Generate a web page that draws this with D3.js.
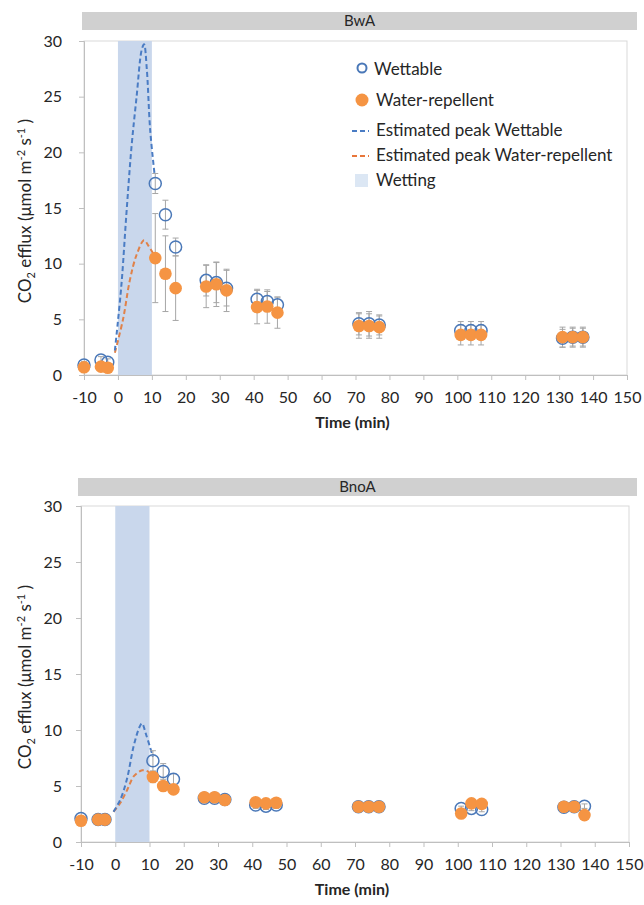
<!DOCTYPE html>
<html>
<head>
<meta charset="utf-8">
<script src="https://cdn.jsdelivr.net/npm/d3@7"></script>
<style>
  body { margin: 0; background: #fff; }
  text { font-family: Lato, "Open Sans", sans-serif; fill: #262626; }
</style>
</head>
<body>
<div id="chart"></div>
<script>
/* global d3 */

// sampling times (min)
const times = [-10, -5, -3, 11, 14, 17, 26, 29, 32, 41, 44, 47, 71, 74, 77, 101, 104, 107, 131, 134, 137]

// BwA panel
const bwaWettable = [0.9, 1.35, 1.15, 17.2, 14.4, 11.5, 8.5, 8.3, 7.8, 6.8, 6.6, 6.3, 4.6, 4.6, 4.5, 4.0, 4.0, 4.0, 3.3, 3.4, 3.4]
const bwaWettableErr = [0.3, 0.3, 0.3, 0.9, 1.3, 0.8, 1.4, 1.8, 1.6, 0.9, 0.9, 0.7, 1.0, 1.1, 0.9, 0.8, 0.8, 0.8, 0.8, 0.8, 0.8]
const bwaRepellent = [0.7, 0.75, 0.65, 10.5, 9.1, 7.8, 7.95, 8.15, 7.6, 6.1, 6.15, 5.6, 4.4, 4.4, 4.3, 3.6, 3.6, 3.6, 3.4, 3.4, 3.4]
const bwaRepellentErr = [0.3, 0.3, 0.3, 4.0, 3.4, 2.9, 1.9, 2.0, 1.9, 1.5, 1.5, 1.4, 1.1, 1.1, 1.0, 0.9, 0.9, 0.9, 0.9, 0.9, 0.9]
const bwaPeakWetT = [-0.9, 1, 2.5, 4, 5.5, 7, 7.7, 8.5, 9.5, 10.8]
const bwaPeakWetV = [2.2, 8, 14.5, 20.5, 25, 29.2, 29.7, 27.5, 22, 18]
const bwaPeakRepT = [-0.9, 1.5, 3.5, 5.5, 7.7, 9, 10.8]
const bwaPeakRepV = [2.0, 5, 8.5, 10.8, 12.1, 11.6, 10.7]

// BnoA panel
const bnoaWettable = [2.1, 2.0, 2.0, 7.25, 6.3, 5.6, 3.9, 3.9, 3.8, 3.3, 3.2, 3.3, 3.15, 3.15, 3.15, 3.0, 3.0, 2.9, 3.1, 3.15, 3.2]
const bnoaWettableErr = [0.2, 0.2, 0.2, 0.9, 0.7, 0.5, 0.3, 0.3, 0.3, 0.3, 0.3, 0.3, 0.2, 0.2, 0.2, 0.2, 0.2, 0.2, 0.2, 0.2, 0.2]
const bnoaRepellent = [1.9, 2.0, 2.0, 5.8, 5.0, 4.7, 4.0, 4.0, 3.75, 3.55, 3.45, 3.5, 3.15, 3.15, 3.15, 2.55, 3.45, 3.4, 3.15, 3.15, 2.4]
const bnoaRepellentErr = [0.2, 0.2, 0.2, 0.5, 0.4, 0.3, 0.3, 0.3, 0.3, 0.2, 0.2, 0.2, 0.2, 0.2, 0.2, 0.2, 0.2, 0.2, 0.2, 0.2, 0.2]
const bnoaPeakWetT = [-0.5, 1.5, 3.4, 5.4, 7, 7.8, 9, 11]
const bnoaPeakWetV = [2.7, 3.8, 5.6, 8.6, 10.2, 10.6, 9.6, 7.6]
const bnoaPeakRepT = [-0.5, 1.5, 3.4, 5.5, 7.9, 9.5, 11]
const bnoaPeakRepV = [2.7, 3.5, 4.6, 5.9, 6.4, 6.3, 5.8]

const wettingRange = [0, 10]
const xTicks = d3.range(-10, 151, 10)
const yTicks = [0, 5, 10, 15, 20, 25, 30]
const legendLabels = ['Wettable', 'Water-repellent', 'Estimated peak Wettable', 'Estimated peak Water-repellent', 'Wetting']

const blue = '#4a78b8', orange = '#f59443', grey = '#a6a6a6'

const svg = d3.select('#chart').append('svg')
  .attr('width', 644)
  .attr('height', 905)

const panels = [
  { name: 'BwA', left: 84, right: 627, top: 41, bottom: 375, hx: 82, hy: 12,
    wet: bwaWettable, wetErr: bwaWettableErr, rep: bwaRepellent, repErr: bwaRepellentErr,
    pwT: bwaPeakWetT, pwV: bwaPeakWetV, prT: bwaPeakRepT, prV: bwaPeakRepV, legend: true },
  { name: 'BnoA', left: 81, right: 629, top: 506, bottom: 842, hx: 78, hy: 478,
    wet: bnoaWettable, wetErr: bnoaWettableErr, rep: bnoaRepellent, repErr: bnoaRepellentErr,
    pwT: bnoaPeakWetT, pwV: bnoaPeakWetV, prT: bnoaPeakRepT, prV: bnoaPeakRepV, legend: false }
]

let drawPanel = (p) => {
  const x = d3.scaleLinear().domain([-10, 150]).range([p.left, p.right])
  const y = d3.scaleLinear().domain([0, 30]).range([p.bottom, p.top])
  const g = svg.append('g')

  // header strip
  g.append('rect')
    .attr('x', p.hx).attr('y', p.hy)
    .attr('width', 637 - p.hx).attr('height', 18)
    .attr('fill', '#d0d0d0')
  g.append('text')
    .attr('x', (p.hx + 637) / 2).attr('y', p.hy + 14)
    .attr('text-anchor', 'middle')
    .style('font-size', '15px')
    .text(p.name)

  // plot frame
  g.append('rect')
    .attr('x', p.left).attr('y', p.top)
    .attr('width', p.right - p.left).attr('height', p.bottom - p.top)
    .attr('fill', 'none').attr('stroke', '#d9d9d9')

  // wetting band
  g.append('rect')
    .attr('x', x(wettingRange[0])).attr('y', p.top)
    .attr('width', x(wettingRange[1]) - x(wettingRange[0]))
    .attr('height', p.bottom - p.top)
    .attr('fill', '#c9d7ec')

  // axes
  const xAxis = d3.axisBottom(x).tickValues(xTicks).tickSize(5).tickPadding(12)
    .tickFormat((d) => String(d))
  const yAxis = d3.axisLeft(y).tickValues(yTicks).tickSize(5).tickPadding(p.left - 67)
  const gx = g.append('g').attr('transform', `translate(0,${p.bottom})`).call(xAxis)
  const gy = g.append('g').attr('transform', `translate(${p.left},0)`).call(yAxis)
  ;[gx, gy].forEach((a) => {
    a.select('.domain').attr('stroke', '#bfbfbf')
    a.selectAll('.tick line').attr('stroke', '#bfbfbf')
    a.selectAll('.tick text').style('font-size', '16px').style('font-family', 'Lato, sans-serif').attr('fill', '#262626')
  })

  // axis titles
  g.append('text')
    .attr('x', (p.left + p.right) / 2 - 3).attr('y', p.bottom + 53)
    .attr('text-anchor', 'middle')
    .style('font-size', '16px').style('font-weight', 'bold')
    .text('Time (min)')
  const yt = g.append('text')
    .attr('transform', `translate(31,${(p.top + p.bottom) / 2 + 3}) rotate(-90)`)
    .attr('text-anchor', 'middle')
    .style('font-size', '17px')
  yt.append('tspan').text('CO')
  yt.append('tspan').attr('dy', 4).style('font-size', '11px').text('2')
  yt.append('tspan').attr('dy', -4).text(' efflux (\u03bcmol m')
  yt.append('tspan').attr('dy', -6).style('font-size', '11px').text('-2')
  yt.append('tspan').attr('dy', 6).text(' s')
  yt.append('tspan').attr('dy', -6).style('font-size', '11px').text('-1')
  yt.append('tspan').attr('dy', 6).text(' )')

  // estimated peak curves
  const line = d3.line().x((d) => x(d[0])).y((d) => y(d[1])).curve(d3.curveCatmullRom)
  g.append('path')
    .datum(d3.zip(p.prT, p.prV))
    .attr('d', line)
    .attr('fill', 'none').attr('stroke', '#e0824a').attr('stroke-width', 2)
    .attr('stroke-dasharray', '5,3')
  g.append('path')
    .datum(d3.zip(p.pwT, p.pwV))
    .attr('d', line)
    .attr('fill', 'none').attr('stroke', '#4a7cc4').attr('stroke-width', 2)
    .attr('stroke-dasharray', '5,3')

  // error bars
  const errs = (vals, err) => times.map((t, i) => ({ t: t, lo: vals[i] - err[i], hi: vals[i] + err[i] }))
  const drawErr = (data) => {
    const eg = g.append('g').attr('stroke', grey).attr('stroke-width', 1)
    eg.selectAll('line.v').data(data).enter().append('line')
      .attr('x1', (d) => x(d.t)).attr('x2', (d) => x(d.t))
      .attr('y1', (d) => y(d.lo)).attr('y2', (d) => y(d.hi))
    eg.selectAll('line.hi').data(data).enter().append('line')
      .attr('x1', (d) => x(d.t) - 3).attr('x2', (d) => x(d.t) + 3)
      .attr('y1', (d) => y(d.hi)).attr('y2', (d) => y(d.hi))
    eg.selectAll('line.lo').data(data).enter().append('line')
      .attr('x1', (d) => x(d.t) - 3).attr('x2', (d) => x(d.t) + 3)
      .attr('y1', (d) => y(d.lo)).attr('y2', (d) => y(d.lo))
  }
  drawErr(errs(p.wet, p.wetErr))
  drawErr(errs(p.rep, p.repErr))

  // markers
  g.append('g').selectAll('circle').data(p.wet).enter().append('circle')
    .attr('cx', (d, i) => x(times[i])).attr('cy', (d) => y(d))
    .attr('r', 6)
    .attr('fill', 'none').attr('stroke', blue).attr('stroke-width', 1.5)
  g.append('g').selectAll('circle').data(p.rep).enter().append('circle')
    .attr('cx', (d, i) => x(times[i])).attr('cy', (d) => y(d))
    .attr('r', 6.3)
    .attr('fill', orange)

  if (p.legend) {
    const lg = g.append('g')
    const rows = [70, 101, 131, 156, 181]
    lg.append('circle').attr('cx', 362).attr('cy', rows[0] - 2).attr('r', 4.5)
      .attr('fill', 'none').attr('stroke', blue).attr('stroke-width', 2)
    lg.append('circle').attr('cx', 362).attr('cy', rows[1] - 1).attr('r', 6.5).attr('fill', orange)
    lg.append('line').attr('x1', 352).attr('x2', 369).attr('y1', rows[2]).attr('y2', rows[2])
      .attr('stroke', '#4a7cc4').attr('stroke-width', 2).attr('stroke-dasharray', '5,3')
    lg.append('line').attr('x1', 352).attr('x2', 369).attr('y1', rows[3]).attr('y2', rows[3])
      .attr('stroke', '#e8763a').attr('stroke-width', 2).attr('stroke-dasharray', '5,3')
    lg.append('rect').attr('x', 355).attr('y', rows[4] - 7).attr('width', 13).attr('height', 13)
      .attr('fill', '#dce7f4')
    lg.selectAll('text.leg').data(legendLabels).enter().append('text')
      .attr('x', (d, i) => i === 0 ? 374 : 376)
      .attr('y', (d, i) => rows[i] + 5)
      .style('font-size', '17px')
      .text((d) => d)
  }
}

panels.forEach(drawPanel)
</script>
</body>
</html>
